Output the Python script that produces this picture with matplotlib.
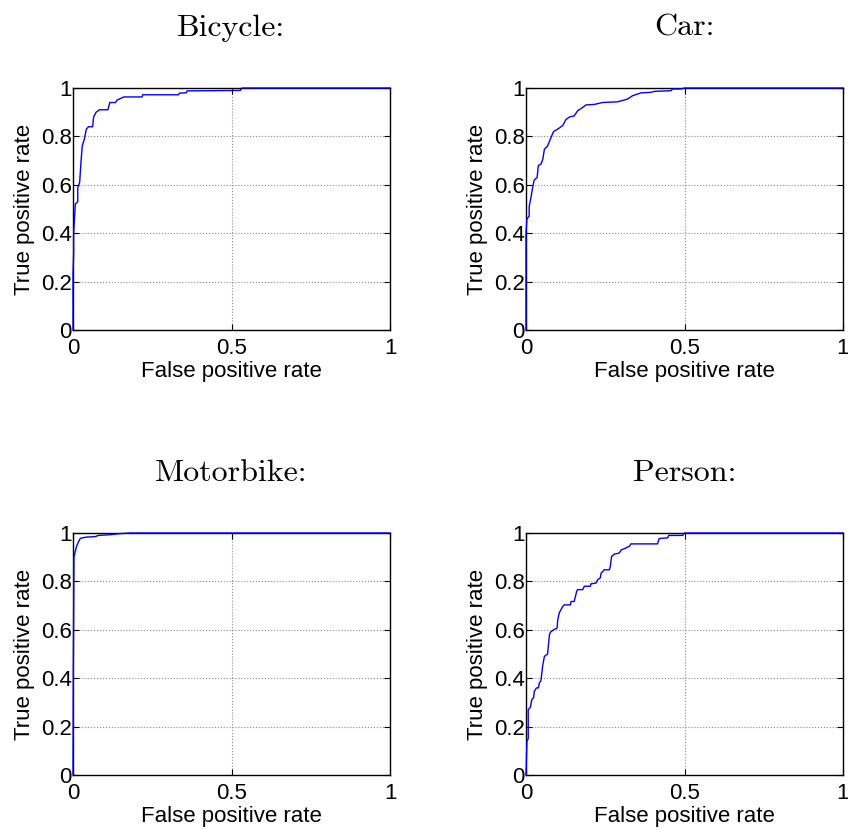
import matplotlib
matplotlib.use('Agg')
import matplotlib.pyplot as plt

# ROC curves (false positive rate, true positive rate)
titles = ['Bicycle:', 'Car:', 'Motorbike:', 'Person:']

bicycle_fpr = [0, 0, 0.002, 0.002, 0.007, 0.007, 0.015, 0.015, 0.021, 0.025, 0.029, 0.036, 0.042, 0.049,
               0.062, 0.065, 0.073, 0.084, 0.11, 0.116, 0.134, 0.139, 0.147, 0.16, 0.218, 0.22,
               0.333, 0.336, 0.357, 0.36, 0.528, 0.533, 1.0]
bicycle_tpr = [0, 0.23, 0.32, 0.40, 0.51, 0.52, 0.53, 0.59, 0.61, 0.69, 0.76, 0.79, 0.83, 0.84,
               0.84, 0.88, 0.90, 0.91, 0.91, 0.94, 0.94, 0.95, 0.955, 0.963, 0.963, 0.972,
               0.972, 0.979, 0.98, 0.988, 0.99, 1.0, 1.0]

car_fpr = [0, 0, 0.003, 0.01, 0.01, 0.016, 0.021, 0.026, 0.035, 0.039, 0.047, 0.053, 0.058, 0.068,
           0.077, 0.087, 0.1, 0.116, 0.126, 0.137, 0.152, 0.163, 0.179, 0.189, 0.215, 0.242,
           0.289, 0.32, 0.336, 0.363, 0.394, 0.405, 0.457, 0.463, 0.489, 0.5, 1.0]
car_tpr = [0, 0.40, 0.46, 0.47, 0.51, 0.55, 0.59, 0.62, 0.63, 0.68, 0.685, 0.705, 0.747, 0.76,
           0.79, 0.82, 0.83, 0.845, 0.87, 0.88, 0.885, 0.906, 0.92, 0.93, 0.932, 0.94,
           0.943, 0.954, 0.968, 0.98, 0.982, 0.986, 0.989, 0.996, 0.996, 1.0, 1.0]

motorbike_fpr = [0, 0.001, 0.002, 0.003, 0.005, 0.01, 0.016, 0.023, 0.042, 0.07, 0.08, 0.118,
                 0.144, 0.18, 1.0]
motorbike_tpr = [0, 0.44, 0.655, 0.90, 0.91, 0.94, 0.96, 0.978, 0.983, 0.985, 0.99, 0.993,
                 0.997, 1.0, 1.0]

person_fpr = [0, 0.002, 0.003, 0.007, 0.007, 0.014, 0.018, 0.024, 0.026, 0.033, 0.039, 0.042,
              0.047, 0.053, 0.058, 0.068, 0.074, 0.077, 0.087, 0.098, 0.1, 0.105, 0.116, 0.121,
              0.14, 0.142, 0.152, 0.16, 0.163, 0.179, 0.184, 0.203, 0.205, 0.221, 0.226, 0.234,
              0.237, 0.247, 0.263, 0.266, 0.27, 0.279, 0.294, 0.3, 0.31, 0.326, 0.331, 0.415,
              0.42, 0.447, 0.45, 0.494, 0.5, 1.0]
person_tpr = [0, 0.097, 0.14, 0.15, 0.27, 0.28, 0.31, 0.32, 0.345, 0.36, 0.36, 0.38,
              0.39, 0.455, 0.49, 0.5, 0.58, 0.59, 0.6, 0.607, 0.64, 0.67, 0.697, 0.703,
              0.703, 0.717, 0.717, 0.76, 0.766, 0.766, 0.78, 0.78, 0.79, 0.793, 0.807, 0.814,
              0.834, 0.848, 0.848, 0.862, 0.903, 0.913, 0.917, 0.93, 0.935, 0.945, 0.955, 0.955,
              0.977, 0.98, 0.99, 0.99, 1.0, 1.0]

curves = [(bicycle_fpr, bicycle_tpr), (car_fpr, car_tpr),
          (motorbike_fpr, motorbike_tpr), (person_fpr, person_tpr)]

x_ticks = [0, 0.5, 1]
x_ticklabels = ['0', '0.5', '1']
y_ticks = [0, 0.2, 0.4, 0.6, 0.8, 1]
y_ticklabels = ['0', '0.2', '0.4', '0.6', '0.8', '1']

plt.rcParams['font.family'] = ['Liberation Sans', 'DejaVu Sans']

W, H = 848, 830
fig = plt.figure(figsize=(W / 100, H / 100), dpi=100)

# axes boxes in pixels: left, top
boxes = [(73, 88), (526, 88), (73, 533), (526, 533)]
aw, ah = 317, 242
fs = 16

for (left, top), title, (fpr, tpr) in zip(boxes, titles, curves):
    ax = fig.add_axes([left / W, 1 - (top + ah) / H, aw / W, ah / H])
    ax.plot(fpr, tpr, color='#0000ff', linewidth=1.0, zorder=3, clip_on=False)
    ax.set_xlim(0, 1)
    ax.set_ylim(0, 1)
    ax.set_xticks(x_ticks)
    ax.set_xticklabels(x_ticklabels)
    ax.set_yticks(y_ticks)
    ax.set_yticklabels(y_ticklabels)
    ax.tick_params(direction='in', length=4, width=0.8, labelsize=fs,
                   top=True, right=True)
    ax.tick_params(axis='x', pad=6)
    ax.tick_params(axis='y', pad=1)
    ax.grid(True, linestyle=':', color='#888888', linewidth=0.8)
    for s in ax.spines.values():
        s.set_linewidth(1.0)
    ax.set_xlabel('False positive rate', fontsize=fs, labelpad=1)
    ax.set_ylabel('True positive rate', fontsize=fs, labelpad=4)
    fig.text((left + aw / 2) / W, 1 - (top - 60) / H, title, ha='center', va='center',
             fontsize=23, family='cmr10')

fig.savefig('out.png', dpi=100)
